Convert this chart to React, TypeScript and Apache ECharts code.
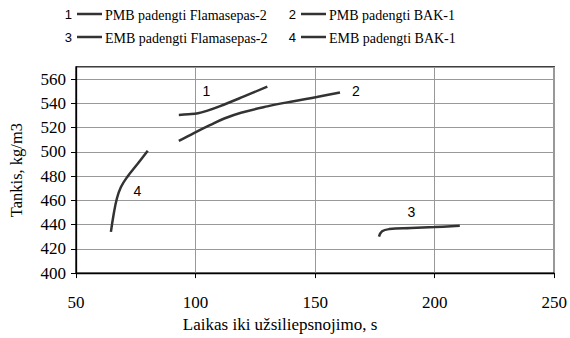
import React, { useEffect, useRef } from "react";
import * as echarts from "echarts";

const seriesNames = [
  "PMB padengti Flamasepas-2",
  "PMB padengti BAK-1",
  "EMB padengti Flamasepas-2",
  "EMB padengti BAK-1",
];
const seriesNums = ["1", "2", "3", "4"];

const pmbFlama: number[][] = [
  [93, 530.5], [97, 531], [101, 531.8], [105, 534], [110, 537.5], [120, 545.5], [130, 553.8],
];
const pmbBak: number[][] = [
  [93, 509], [99.3, 515.5], [106, 522], [112, 527.5], [119, 532.3], [130, 537.5], [141, 541.8], [150.7, 545.3], [160.4, 549],
];
const embFlama: number[][] = [
  [176.7, 430], [178, 434.5], [181, 436.3], [190, 437.2], [200, 438], [210.5, 439],
];
const embBak: number[][] = [
  [64.6, 434], [65.7, 448], [67.1, 461.5], [68.8, 471], [71.5, 479.5], [75.7, 490], [80, 501],
];
const seriesData = [pmbFlama, pmbBak, embFlama, embBak];
const labelPos: number[][] = [
  [104.5, 550], [167, 550], [190.3, 450], [75.7, 468],
];

const xTicks = { min: 50, max: 250, interval: 50 };
const yTicks = { min: 400, max: 570, interval: 20 };

export default function App() {
  const ref = useRef<HTMLDivElement>(null);
  useEffect(() => {
    if (!ref.current) return;
    const chart = echarts.init(ref.current, null, { renderer: "svg" });
    const serif = "Liberation Serif, Times New Roman, serif";
    const sans = "Liberation Sans, Arial, sans-serif";
    const legendItems: any[] = [];
    const legendPos = [
      [72, 14], [296, 14], [72, 37], [296, 37],
    ];
    seriesNames.forEach((n, i) => {
      const [lx, ly] = legendPos[i];
      legendItems.push({
        type: "text", x: lx, y: ly,
        style: { text: seriesNums[i], font: `13px ${sans}`, fill: "#000", align: "right", verticalAlign: "middle" },
      });
      legendItems.push({
        type: "line",
        shape: { x1: lx + 5, y1: ly, x2: lx + 30, y2: ly },
        style: { stroke: "#333", lineWidth: 2.5 },
      });
      legendItems.push({
        type: "text", x: lx + 33, y: ly + 1,
        style: { text: n, font: `14px ${serif}`, fill: "#000", align: "left", verticalAlign: "middle" },
      });
    });

    chart.setOption({
      animation: false,
      grid: {
        left: 75, right: 15, top: 67, bottom: 62,
        show: true, borderColor: "#000", borderWidth: 1.3, backgroundColor: "transparent",
      },
      xAxis: {
        type: "value",
        min: xTicks.min, max: xTicks.max, interval: xTicks.interval,
        name: "Laikas iki užsiliepsnojimo, s",
        nameLocation: "middle", nameGap: 41,
        nameTextStyle: { fontFamily: serif, fontSize: 17, color: "#000", padding: [0, 70, 0, 0] },
        axisLine: { show: true, lineStyle: { color: "#000", width: 1.3 } },
        axisTick: { show: true, length: 5, lineStyle: { color: "#000" } },
        axisLabel: { fontFamily: serif, fontSize: 17, color: "#000", margin: 21 },
        splitLine: { show: true, lineStyle: { color: "#999", width: 1 } },
      },
      yAxis: {
        type: "value",
        min: yTicks.min, max: yTicks.max, interval: yTicks.interval,
        name: "Tankis, kg/m3",
        nameLocation: "middle", nameGap: 51, nameRotate: 90,
        nameTextStyle: { fontFamily: serif, fontSize: 16.5, color: "#000" },
        axisLine: { show: true, lineStyle: { color: "#000", width: 1.3 } },
        axisTick: { show: true, length: 5, lineStyle: { color: "#000" } },
        axisLabel: { fontFamily: serif, fontSize: 17, color: "#000", margin: 10, showMaxLabel: false },
        splitLine: { show: true, lineStyle: { color: "#999", width: 1 } },
      },
      series: seriesData.map((d, i) => ({
        type: "line",
        name: seriesNames[i],
        data: d,
        smooth: 0.4,
        symbol: "none",
        color: "#333",
        lineStyle: { color: "#333", width: 2.5 },
        markPoint: {
          symbol: "circle", symbolSize: 1,
          itemStyle: { color: "rgba(0,0,0,0)" },
          data: [{ coord: labelPos[i], value: seriesNums[i] }],
          label: {
            show: true, position: "inside", formatter: seriesNums[i],
            fontFamily: sans, fontSize: 14, color: "#000",
          },
        },
      })),
      graphic: legendItems,
    });
    return () => chart.dispose();
  }, []);
  return <div ref={ref} style={{ width: 570, height: 338, position: "absolute", left: 0, top: 0 }} />;
}
